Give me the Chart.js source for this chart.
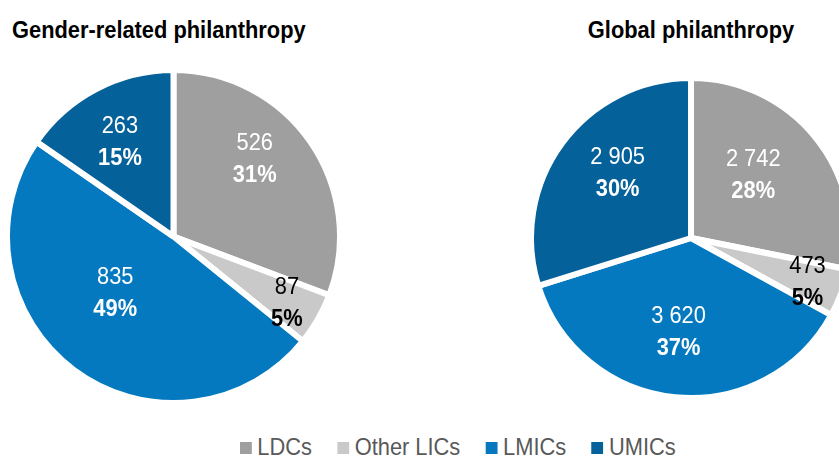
<!DOCTYPE html>
<html>
<head>
<meta charset="utf-8">
<script src="https://cdn.jsdelivr.net/npm/chart.js@4.4.1/dist/chart.umd.min.js"></script>
<style>
  html, body { margin:0; padding:0; background:#fff; overflow:hidden; width:839px; height:458px; }
  body { position:relative; font-family:'Liberation Sans', Arial, sans-serif; }
  .title { position:absolute; top:16px; font-size:24px; line-height:28px; font-weight:bold; color:#000; white-space:nowrap; transform-origin:left center; transform:scaleX(0.91); }
  .pie { position:absolute; }
  #legend { position:absolute; left:240px; top:433px; height:28px; display:flex; align-items:center; font-size:24px; line-height:28px; color:#595959; white-space:nowrap; transform-origin:left center; transform:scaleX(0.91); }
  .lg-item { display:flex; align-items:center; margin-right:28px; }
  .lg-box { width:13px; height:12px; margin-right:6px; margin-top:2px; }
</style>
</head>
<body>
<div class="title" style="left:12px;">Gender-related philanthropy</div>
<div class="title" style="left:691px; transform-origin:center; transform:translateX(-50%) scaleX(0.91);">Global philanthropy</div>

<div class="pie" style="left:4px; top:67px; width:339px; height:339px;"><canvas id="genderChart"></canvas></div>
<div class="pie" style="left:528px; top:75px; width:326px; height:326px;"><canvas id="globalChart"></canvas></div>

<div id="legend"></div>

<script>
// ===== Data =====
const categories   = ['LDCs', 'Other LICs', 'LMICs', 'UMICs'];
const genderValues = [526, 87, 835, 263];
const globalValues = [2742, 473, 3620, 2905];

// ===== Style =====
const sliceColors = ['#9f9f9f', '#c9c9c9', '#0479bf', '#05619a'];
const textColors  = ['#ffffff', '#000000', '#ffffff', '#ffffff'];
const FONT = "'Liberation Sans', Arial, sans-serif";
const SQUEEZE = 0.91; // reference type is slightly condensed

// label placement: radius fraction + angle nudge (deg) per slice
const genderLabelPos = { dist:[0.68, 0.785, 0.48, 0.66], shift:[-9.5, 0, 10, -1.5] };
const globalLabelPos = { dist:[0.56, 0.775, 0.58, 0.62], shift:[-6.7, 0, 2, 6] };

function fmt(n){ return String(n).replace(/\B(?=(\d{3})+(?!\d))/g, ' '); }

// ===== Plugin: value + percent inside slices =====
const sliceLabels = {
  id: 'sliceLabels',
  afterDatasetsDraw(chart, args, opts){
    const {ctx} = chart;
    const data = chart.data.datasets[0].data;
    const total = data.reduce((a,b)=>a+b, 0);
    chart.getDatasetMeta(0).data.forEach((arc, i)=>{
      const p = arc.getProps(['x','y','startAngle','endAngle','outerRadius'], true);
      const a = (p.startAngle + p.endAngle)/2 + (opts.shift[i]||0)*Math.PI/180;
      const r = p.outerRadius * opts.dist[i];
      const cx = p.x + Math.cos(a)*r, cy = p.y + Math.sin(a)*r;
      ctx.save();
      ctx.translate(cx, cy);
      ctx.scale(SQUEEZE, 1);
      ctx.fillStyle = textColors[i];
      ctx.textAlign = 'center';
      ctx.textBaseline = 'alphabetic';
      ctx.font = '24px ' + FONT;
      ctx.fillText(fmt(data[i]), 0, -16 + 8.6);
      ctx.font = 'bold 24px ' + FONT;
      ctx.fillText(Math.round(data[i]/total*100) + '%', 0, 16 + 8.6);
      ctx.restore();
    });
  }
};

function makePie(id, values, labelPos){
  return new Chart(document.getElementById(id), {
    type: 'pie',
    data: { labels: categories, datasets: [{ data: values, backgroundColor: sliceColors, borderColor: '#ffffff', borderWidth: 6, hoverOffset: 0 }] },
    options: {
      responsive: true, maintainAspectRatio: false, animation: false,
      events: [],
      layout: { padding: 0 },
      plugins: { legend: { display: false }, tooltip: { enabled: false }, sliceLabels: labelPos }
    },
    plugins: [sliceLabels]
  });
}

makePie('genderChart', genderValues, genderLabelPos);
makePie('globalChart', globalValues, globalLabelPos);

// ===== Legend =====
document.getElementById('legend').innerHTML = categories.map((c,i)=>(
  `<div class="lg-item"><div class="lg-box" style="background:${sliceColors[i]}"></div><span>${c}</span></div>`
)).join('');
</script>
</body>
</html>
